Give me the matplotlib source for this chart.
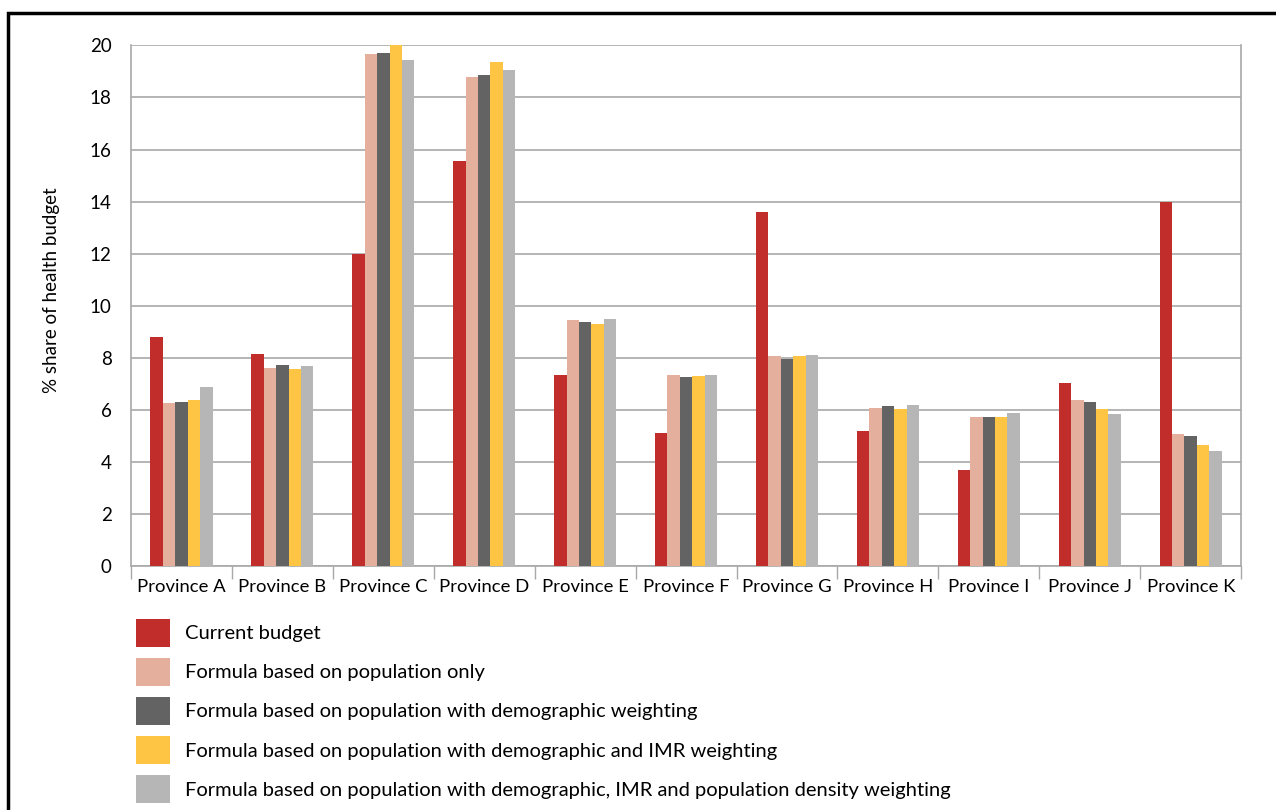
import numpy as np
import matplotlib.pyplot as plt
from matplotlib.patches import Patch, Rectangle

provinces = ['Province A', 'Province B', 'Province C', 'Province D', 'Province E',
             'Province F', 'Province G', 'Province H', 'Province I', 'Province J', 'Province K']

current = [8.8, 8.15, 12.0, 15.55, 7.33, 5.1, 13.6, 5.2, 3.7, 7.05, 14.0]
pop_only = [6.25, 7.6, 19.65, 18.8, 9.44, 7.36, 8.06, 6.07, 5.71, 6.39, 5.07]
demog = [6.3, 7.71, 19.7, 18.87, 9.39, 7.28, 7.97, 6.14, 5.73, 6.31, 5.01]
demog_imr = [6.38, 7.57, 20.0, 19.38, 9.3, 7.32, 8.06, 6.05, 5.71, 6.03, 4.66]
demog_imr_dens = [6.87, 7.7, 19.45, 19.07, 9.48, 7.33, 8.1, 6.19, 5.9, 5.85, 4.42]

labels = ['Current budget',
          'Formula based on population only',
          'Formula based on population with demographic weighting',
          'Formula based on population with demographic and IMR weighting',
          'Formula based on population with demographic, IMR and population density weighting']
colors = ['#C12D2A', '#E5AF9D', '#636363', '#FDC543', '#B6B6B6']

plt.rcParams['font.family'] = ['Lato', 'DejaVu Sans']

fig = plt.figure(figsize=(12.76, 8.1), dpi=100)
ax = fig.add_axes([0.1027, 0.301, 0.870, 0.643])

series = [current, pop_only, demog, demog_imr, demog_imr_dens]
x = np.arange(len(provinces))
w = 0.123
for i, vals in enumerate(series):
    ax.bar(x + (i - 2) * w, vals, width=w, color=colors[i], zorder=3)

ax.set_xlim(-0.5, len(provinces) - 0.5)
ax.set_ylim(0, 20)
ax.set_yticks(range(0, 21, 2))
ax.grid(axis='y', color='#A8A8A8', linewidth=1.2, zorder=0)
for s in ['left', 'right', 'bottom', 'top']:
    ax.spines[s].set_color('#A8A8A8')
    ax.spines[s].set_linewidth(1.2)
ax.spines['top'].set_visible(False)

ax.set_xticks(x)
ax.set_xticklabels(provinces, fontsize=13.3)
ax.set_xticks(np.arange(-0.5, len(provinces)), minor=True)
ax.tick_params(axis='x', which='major', length=0, pad=9)
ax.tick_params(axis='x', which='minor', length=9, color='#A8A8A8', width=1)
ax.tick_params(axis='y', length=0, pad=14, labelsize=13.5)
ax.set_ylabel('% share of health budget', fontsize=13.5)
ax.yaxis.set_label_coords(-0.064, 0.53)

handles = [Patch(facecolor=c) for c in colors]
fig.legend(handles, labels, loc='upper left', bbox_to_anchor=(0.1, 0.246),
           frameon=False, fontsize=14.5, handlelength=1.7, handleheight=1.75,
           labelspacing=0.56, handletextpad=0.75, borderaxespad=0)

fig.patches.append(Rectangle((0.006, -0.05), 1.1, 1.034, transform=fig.transFigure,
                             fill=False, edgecolor='black', linewidth=2.5))

fig.savefig('out.png', dpi=100)
